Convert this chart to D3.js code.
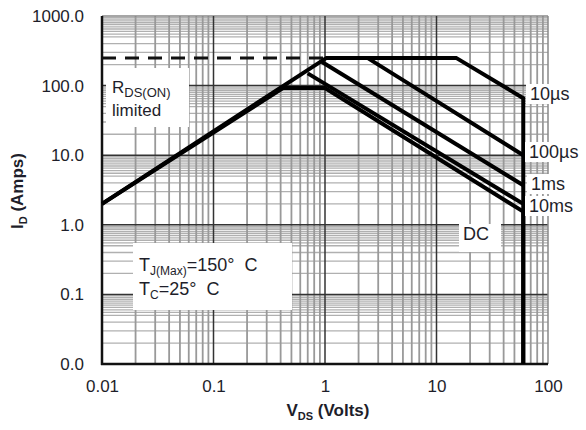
<!DOCTYPE html>
<html>
<head>
<meta charset="utf-8">
<script src="https://cdn.jsdelivr.net/npm/d3@7"></script>
<style>
  html, body { margin: 0; padding: 0; background: #fff; }
  svg { display: block; font-family: "Liberation Sans", Arial, sans-serif; }
</style>
</head>
<body>
<svg id="chart" width="586" height="430"></svg>
<script>
// ---- data ----
const xTickValues = [0.01, 0.1, 1, 10, 100];
const xTickLabels = ["0.01", "0.1", "1", "10", "100"];
const yTickValues = [0.01, 0.1, 1, 10, 100, 1000];
const yTickLabels = ["0.0", "0.1", "1.0", "10.0", "100.0", "1000.0"];

const xMinorFactors = [2, 3, 4, 5, 6, 7, 8, 9];
const yMinorFactors = [2, 3, 4, 5, 5.5, 6, 6.5, 7, 7.5, 8, 8.5, 9, 9.5];

const rdsLimitI = 250;        // dashed package limit
const rdsLimitVEnd = 1;

const v10us  = [0.01, 1.03, 15, 60, 60];
const i10us  = [2, 250, 250, 66, 0.01];
const v100us = [1.03, 2.4, 60];
const i100us = [250, 250, 10];
const v1ms   = [0.94, 60];
const i1ms   = [218, 3.7];
const v10ms  = [0.7, 60];
const i10ms  = [150, 2.0];
const vDC    = [0.01, 0.42, 1.0, 60, 60];
const iDC    = [2, 92, 92, 1.55, 0.01];

const seriesLabels = ["10\u00b5s", "100\u00b5s", "1ms", "10ms", "DC"];

// ---- chart ----
const svg = d3.select("#chart");
const x = d3.scaleLog().domain([0.01, 100]).range([102, 548]);
const y = d3.scaleLog().domain([0.01, 1000]).range([364, 16]);

const grid = svg.append("g");
const decadesX = xTickValues.slice(0, -1);
const decadesY = yTickValues.slice(0, -1);

// horizontal minor grid
decadesY.forEach(d => yMinorFactors.forEach(k => {
  grid.append("line").attr("x1", x(0.01)).attr("x2", x(100))
    .attr("y1", y(d * k)).attr("y2", y(d * k))
    .attr("stroke", "#b0b0b0").attr("stroke-width", 1.3);
}));
// vertical minor grid
decadesX.forEach(d => xMinorFactors.forEach(k => {
  grid.append("line").attr("y1", y(0.01)).attr("y2", y(1000))
    .attr("x1", x(d * k)).attr("x2", x(d * k))
    .attr("stroke", "#999").attr("stroke-width", 1.8);
}));
// decade lines
yTickValues.slice(1).forEach(v => {
  grid.append("line").attr("x1", x(0.01)).attr("x2", x(100))
    .attr("y1", y(v)).attr("y2", y(v))
    .attr("stroke", v === 1000 ? "#888" : "#333").attr("stroke-width", 1.5);
});
xTickValues.slice(1).forEach(v => {
  grid.append("line").attr("y1", y(0.01)).attr("y2", y(1000))
    .attr("x1", x(v)).attr("x2", x(v))
    .attr("stroke", v === 100 ? "#888" : "#333").attr("stroke-width", 1.5);
});

// axes lines
svg.append("line").attr("x1", x(0.01)).attr("x2", x(0.01)).attr("y1", y(1000)).attr("y2", y(0.01) + 1)
  .attr("stroke", "#111").attr("stroke-width", 2.5);
svg.append("line").attr("x1", x(0.01) - 1).attr("x2", x(100)).attr("y1", y(0.01)).attr("y2", y(0.01))
  .attr("stroke", "#111").attr("stroke-width", 2.5);

// axis tick labels via d3 axes
const textColor = "#1e1e2a";
const xAxis = d3.axisBottom(x).tickValues(xTickValues)
  .tickFormat((d, i) => xTickLabels[i]).tickSize(0).tickPadding(16);
const gx = svg.append("g").attr("transform", `translate(0,${y(0.01)})`).call(xAxis);
gx.select(".domain").remove();
gx.selectAll("text").attr("font-size", 17).attr("fill", textColor)
  .attr("font-family", "Liberation Sans, Arial, sans-serif");

const yAxis = d3.axisLeft(y).tickValues(yTickValues)
  .tickFormat((d, i) => yTickLabels[i]).tickSize(0).tickPadding(18);
const gy = svg.append("g").attr("transform", `translate(${x(0.01)},0)`).call(yAxis);
gy.select(".domain").remove();
gy.selectAll("text").attr("font-size", 17).attr("fill", textColor)
  .attr("font-family", "Liberation Sans, Arial, sans-serif");

// dashed limit line
svg.append("line").attr("x1", x(0.01)).attr("x2", x(rdsLimitVEnd))
  .attr("y1", y(rdsLimitI)).attr("y2", y(rdsLimitI))
  .attr("stroke", "#111").attr("stroke-width", 3).attr("stroke-dasharray", "14,9");

// curves
const line = d3.line().x(d => x(d[0])).y(d => y(d[1]));
const curves = [[v10us, i10us], [v100us, i100us], [v1ms, i1ms], [v10ms, i10ms], [vDC, iDC]];
curves.forEach(([vs, is]) => {
  svg.append("path").datum(vs.map((v, i) => [v, is[i]]))
    .attr("d", line).attr("fill", "none").attr("stroke", "#000")
    .attr("stroke-width", 4).attr("stroke-linejoin", "miter");
});

// label boxes
function box(x0, y0, w, h) {
  svg.append("rect").attr("x", x0).attr("y", y0).attr("width", w).attr("height", h).attr("fill", "#fff");
}

// R_DS(ON) limited
box(106, 68, 83, 59);
const t1 = svg.append("text").attr("x", 112).attr("y", 93).attr("font-size", 17).attr("fill", textColor);
t1.append("tspan").text("R");
t1.append("tspan").attr("font-size", 13).attr("dy", 4).text("DS(ON)");
svg.append("text").attr("x", 112).attr("y", 116).attr("font-size", 17).attr("fill", textColor).text("limited");

// Tj / Tc box
box(133, 243, 159, 67);
const t2 = svg.append("text").attr("x", 139).attr("y", 271).attr("font-size", 18).attr("fill", textColor);
t2.append("tspan").text("T");
t2.append("tspan").attr("font-size", 12).attr("dy", 4).text("J(Max)");
t2.append("tspan").attr("dy", -4).text("=150\u00b0\u00a0\u00a0C");
const t3 = svg.append("text").attr("x", 139).attr("y", 295).attr("font-size", 18).attr("fill", textColor);
t3.append("tspan").text("T");
t3.append("tspan").attr("font-size", 12).attr("dy", 4).text("C");
t3.append("tspan").attr("dy", -4).text("=25\u00b0\u00a0\u00a0C");

// series labels
const labelPos = [[530, 100], [529, 158], [531, 190], [529, 212], [463, 240]];
seriesLabels.forEach((s, i) => {
  const [lx, ly] = labelPos[i];
  box(lx - 4, ly - 16, i === 4 ? 42 : 60, i === 4 ? 28 : 20);
  svg.append("text").attr("x", lx).attr("y", ly).attr("font-size", 18).attr("fill", textColor).text(s);
});

// axis titles
const xt = svg.append("text").attr("x", 328).attr("y", 416).attr("text-anchor", "middle")
  .attr("font-size", 17).attr("font-weight", "bold").attr("fill", textColor);
xt.append("tspan").text("V");
xt.append("tspan").attr("font-size", 11).attr("dy", 4).text("DS");
xt.append("tspan").attr("dy", -4).text(" (Volts)");

const yt = svg.append("text").attr("transform", "translate(23,191) rotate(-90)")
  .attr("text-anchor", "middle").attr("font-size", 17).attr("font-weight", "bold").attr("fill", textColor);
yt.append("tspan").text("I");
yt.append("tspan").attr("font-size", 11).attr("dy", 4).text("D");
yt.append("tspan").attr("dy", -4).text(" (Amps)");
</script>
</body>
</html>
